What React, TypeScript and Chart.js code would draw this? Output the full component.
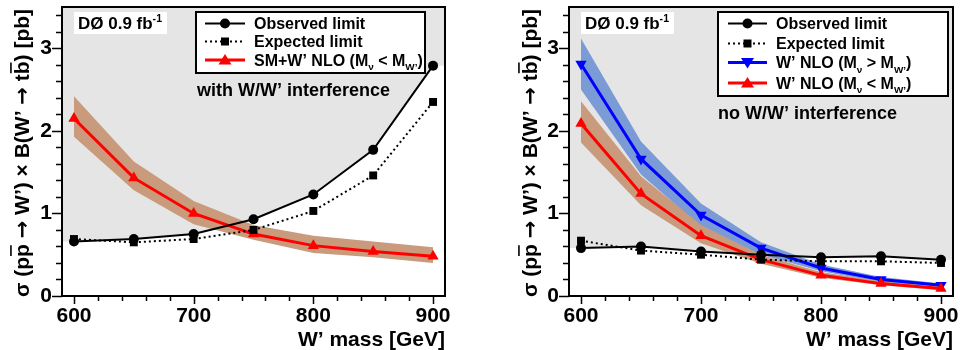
import React, { useEffect, useRef } from 'react';
import { Chart, registerables } from 'chart.js';

Chart.register(...registerables);

// ---------- data ----------
const masses = [600, 650, 700, 750, 800, 850, 900];
const xTickLabels = [600, 700, 800, 900];
const yTickLabels = [0, 1, 2, 3];
const xRange = [590, 910];
const yRange = [0, 3.5];

// left panel: with W/W' interference
const obsL = [0.66, 0.69, 0.75, 0.93, 1.23, 1.77, 2.79];
const expL = [0.69, 0.65, 0.69, 0.8, 1.03, 1.46, 2.35];
const smL = [2.15, 1.43, 1.0, 0.75, 0.61, 0.54, 0.48];
const smUpL = [2.42, 1.63, 1.15, 0.86, 0.73, 0.66, 0.59];
const smLoL = [1.93, 1.28, 0.87, 0.68, 0.52, 0.47, 0.4];

// right panel: no W/W' interference
const obsR = [0.58, 0.6, 0.54, 0.5, 0.47, 0.48, 0.44];
const expR = [0.67, 0.55, 0.5, 0.44, 0.42, 0.42, 0.4];
const gtR = [2.81, 1.66, 0.98, 0.58, 0.34, 0.2, 0.13];
const gtUpR = [3.12, 1.87, 1.12, 0.65, 0.38, 0.23, 0.15];
const gtLoR = [2.5, 1.47, 0.84, 0.5, 0.3, 0.17, 0.11];
const ltR = [2.09, 1.24, 0.73, 0.44, 0.25, 0.15, 0.09];
const ltUpR = [2.36, 1.45, 0.86, 0.5, 0.29, 0.18, 0.11];
const ltLoR = [1.86, 1.1, 0.64, 0.39, 0.22, 0.13, 0.07];

// ---------- styling ----------
const FONT = '"Liberation Sans", Arial, Helvetica, sans-serif';
const ARROWFONT = '"DejaVu Sans", sans-serif';
const bf = (s: number, fam?: string) => `bold ${s}px ${fam || FONT}`;
const GRAY = '#e5e5e5';
const BROWN = '#c99a7c';
const BLUEBAND = '#7b9bd6';
const RED = '#ff0000';
const BLUE = '#0000ff';

type Seg = { t: string; sub?: boolean; sup?: boolean; bar?: boolean; fam?: string };

function drawRich(ctx: CanvasRenderingContext2D, segs: Seg[], x: number, y: number, size: number, align: string) {
  const small = size * 0.62;
  const widths = segs.map((s) => {
    ctx.font = bf(s.sub || s.sup ? small : size, s.fam);
    return ctx.measureText(s.t).width;
  });
  const total = widths.reduce((a, b) => a + b, 0);
  let cx = align === 'center' ? x - total / 2 : align === 'right' ? x - total : x;
  ctx.textAlign = 'left';
  ctx.textBaseline = 'alphabetic';
  ctx.fillStyle = '#000';
  segs.forEach((s, i) => {
    ctx.font = bf(s.sub || s.sup ? small : size, s.fam);
    const dy = s.sub ? size * 0.3 : s.sup ? -size * 0.42 : 0;
    ctx.fillText(s.t, cx, y + dy);
    if (s.bar) {
      ctx.save();
      ctx.strokeStyle = '#000';
      ctx.lineWidth = 1.6;
      ctx.beginPath();
      ctx.moveTo(cx + 1, y - size * 0.86);
      ctx.lineTo(cx + widths[i] - 1, y - size * 0.86);
      ctx.stroke();
      ctx.restore();
    }
    cx += widths[i];
  });
}

function drawMarker(ctx: CanvasRenderingContext2D, style: string, x: number, y: number, color: string) {
  ctx.fillStyle = color;
  ctx.beginPath();
  if (style === 'circle') {
    ctx.arc(x, y, 5, 0, Math.PI * 2);
  } else if (style === 'rect') {
    ctx.rect(x - 4, y - 4, 8, 8);
  } else if (style === 'up') {
    ctx.moveTo(x, y - 6);
    ctx.lineTo(x + 6.5, y + 4.5);
    ctx.lineTo(x - 6.5, y + 4.5);
    ctx.closePath();
  } else {
    ctx.moveTo(x, y + 6);
    ctx.lineTo(x + 6.5, y - 4.5);
    ctx.lineTo(x - 6.5, y - 4.5);
    ctx.closePath();
  }
  ctx.fill();
}

type LegendEntry = { segs: Seg[]; color: string; width: number; dash: number[]; marker: string };

type PanelCfg = {
  obs: number[];
  exp: number[];
  curves: { val: number[]; up: number[]; lo: number[]; line: string; band: string; marker: string; order: number; bandOrder: number }[];
  yAxisWidth: number;
  padRight: number;
  yTitleX: number;
  legendBox: number[]; // x0,y0,x1,y1
  legendRows: number[];
  legendLine: number[]; // x0,x1
  legendText: number;
  legend: LegendEntry[];
  note: string;
  notePos: number[];
  dzeroBox: number[];
};

const obsEntry: LegendEntry = { segs: [{ t: 'Observed limit' }], color: '#000', width: 2, dash: [], marker: 'circle' };
const expEntry: LegendEntry = { segs: [{ t: 'Expected limit' }], color: '#000', width: 2, dash: [2, 3], marker: 'rect' };

const leftCfg: PanelCfg = {
  obs: obsL,
  exp: expL,
  curves: [{ val: smL, up: smUpL, lo: smLoL, line: RED, band: BROWN, marker: 'up', order: 3, bandOrder: 6 }],
  yAxisWidth: 62,
  padRight: 35,
  yTitleX: 22,
  legendBox: [196, 12, 425, 73],
  legendRows: [23.5, 41.5, 60],
  legendLine: [205, 245],
  legendText: 254,
  legend: [
    obsEntry,
    expEntry,
    {
      segs: [{ t: 'SM+W’ NLO (M' }, { t: 'ν', sub: true }, { t: ' < M' }, { t: 'W’', sub: true }, { t: ')' }],
      color: RED, width: 3, dash: [], marker: 'up',
    },
  ],
  note: 'with W/W’ interference',
  notePos: [197, 96],
  dzeroBox: [74, 12, 167, 34],
};

const rightCfg: PanelCfg = {
  obs: obsR,
  exp: expR,
  curves: [
    { val: gtR, up: gtUpR, lo: gtLoR, line: BLUE, band: BLUEBAND, marker: 'down', order: 4, bandOrder: 7 },
    { val: ltR, up: ltUpR, lo: ltLoR, line: RED, band: BROWN, marker: 'up', order: 3, bandOrder: 6 },
  ],
  yAxisWidth: 89,
  padRight: 7,
  yTitleX: 50,
  legendBox: [238, 12, 468, 96],
  legendRows: [23.5, 43.5, 62.5, 83],
  legendLine: [248, 287],
  legendText: 296,
  legend: [
    obsEntry,
    expEntry,
    {
      segs: [{ t: 'W’ NLO (M' }, { t: 'ν', sub: true }, { t: ' > M' }, { t: 'W’', sub: true }, { t: ')' }],
      color: BLUE, width: 3, dash: [], marker: 'down',
    },
    {
      segs: [{ t: 'W’ NLO (M' }, { t: 'ν', sub: true }, { t: ' < M' }, { t: 'W’', sub: true }, { t: ')' }],
      color: RED, width: 3, dash: [], marker: 'up',
    },
  ],
  note: 'no W/W’ interference',
  notePos: [238, 119],
  dzeroBox: [101, 12, 194, 34],
};

const yTitle: Seg[] = [
  { t: 'σ (p' },
  { t: 'p', bar: true },
  { t: ' ' },
  { t: '→', fam: ARROWFONT },
  { t: ' W’) × B(W’ ' },
  { t: '→', fam: ARROWFONT },
  { t: ' t' },
  { t: 'b', bar: true },
  { t: ') [pb]' },
];

const pts = (arr: number[]) => masses.map((m, i) => ({ x: m, y: arr[i] }));

function Panel({ cfg }: { cfg: PanelCfg }) {
  const ref = useRef<HTMLCanvasElement | null>(null);
  useEffect(() => {
    if (!ref.current) return;
    const datasets: any[] = [];
    // excluded (gray) region above the observed limit
    datasets.push({
      data: [{ x: xRange[0], y: cfg.obs[0] }, ...pts(cfg.obs), { x: xRange[1], y: cfg.obs[cfg.obs.length - 1] }],
      borderWidth: 0,
      pointRadius: 0,
      backgroundColor: GRAY,
      fill: 'end',
      order: 20,
    });
    cfg.curves.forEach((c) => {
      datasets.push({ data: pts(c.up), borderWidth: 0, pointRadius: 0, fill: false, order: c.bandOrder });
      datasets.push({ data: pts(c.lo), borderWidth: 0, pointRadius: 0, fill: '-1', backgroundColor: c.band, order: c.bandOrder });
    });
    cfg.curves.forEach((c) => {
      datasets.push({
        data: pts(c.val),
        borderColor: c.line,
        backgroundColor: c.line,
        borderWidth: 3,
        pointStyle: 'triangle',
        rotation: c.marker === 'down' ? 180 : 0,
        pointRadius: 6.5,
        pointBorderWidth: 0,
        fill: false,
        order: c.order,
      });
    });
    datasets.push({
      data: pts(cfg.exp),
      borderColor: '#000',
      backgroundColor: '#000',
      borderWidth: 2,
      borderDash: [2, 3],
      pointStyle: 'rect',
      pointRadius: 5.6,
      pointBorderWidth: 0,
      fill: false,
      order: 2,
    });
    datasets.push({
      data: pts(cfg.obs),
      borderColor: '#000',
      backgroundColor: '#000',
      borderWidth: 2,
      pointStyle: 'circle',
      pointRadius: 5,
      pointBorderWidth: 0,
      fill: false,
      order: 1,
    });

    const deco = {
      id: 'deco',
      afterDraw(chart: any) {
        const ctx: CanvasRenderingContext2D = chart.ctx;
        const a = chart.chartArea;
        const xs = chart.scales.x;
        const ys = chart.scales.y;
        ctx.save();
        // ticks
        ctx.strokeStyle = '#000';
        ctx.lineWidth = 1.5;
        ctx.beginPath();
        for (let v = yRange[0]; v <= yRange[1] + 1e-9; v += 0.2) {
          const p = Math.round(ys.getPixelForValue(v)) + 0.5;
          const major = Math.abs(v - Math.round(v)) < 1e-6;
          ctx.moveTo(a.left, p);
          ctx.lineTo(a.left - (major ? 10 : 6), p);
        }
        for (let v = 600; v <= xRange[1]; v += 20) {
          const p = Math.round(xs.getPixelForValue(v)) + 0.5;
          const major = v % 100 === 0;
          ctx.moveTo(p, a.bottom);
          ctx.lineTo(p, a.bottom + (major ? 8 : 5));
        }
        ctx.stroke();
        // frame
        ctx.lineWidth = 2;
        ctx.strokeRect(a.left, a.top, a.right - a.left, a.bottom - a.top);

        // DØ label
        const d = cfg.dzeroBox;
        ctx.fillStyle = '#fff';
        ctx.fillRect(d[0], d[1], d[2] - d[0], d[3] - d[1]);
        drawRich(ctx, [{ t: 'DØ 0.9 fb' }, { t: '-1', sup: true }], d[0] + 4, d[3] - 5, 17, 'left');

        // legend
        const b = cfg.legendBox;
        ctx.fillStyle = '#fff';
        ctx.fillRect(b[0], b[1], b[2] - b[0], b[3] - b[1]);
        ctx.strokeStyle = '#000';
        ctx.lineWidth = 2;
        ctx.strokeRect(b[0], b[1], b[2] - b[0], b[3] - b[1]);
        cfg.legend.forEach((e, i) => {
          const y = cfg.legendRows[i];
          const [l0, l1] = cfg.legendLine;
          ctx.save();
          ctx.strokeStyle = e.color;
          ctx.lineWidth = e.width;
          ctx.setLineDash(e.dash);
          ctx.beginPath();
          ctx.moveTo(l0, y);
          ctx.lineTo(l1, y);
          ctx.stroke();
          ctx.restore();
          drawMarker(ctx, e.marker, (l0 + l1) / 2, y, e.color);
          drawRich(ctx, e.segs, cfg.legendText, y + 5.5, 16, 'left');
        });

        // note
        drawRich(ctx, [{ t: cfg.note }], cfg.notePos[0], cfg.notePos[1], 18, 'left');

        // x title
        drawRich(ctx, [{ t: 'W’ mass [GeV]' }], a.right, 346, 21, 'right');

        // y title
        ctx.save();
        ctx.translate(cfg.yTitleX, 153);
        ctx.rotate(-Math.PI / 2);
        drawRich(ctx, yTitle, 0, 7, 21, 'center');
        ctx.restore();
        ctx.restore();
      },
    };

    const tickFont = { family: FONT, size: 21, weight: 'bold' as const };
    const chart = new Chart(ref.current, {
      type: 'line',
      data: { datasets },
      options: {
        animation: false,
        responsive: false,
        maintainAspectRatio: false,
        devicePixelRatio: 1,
        events: [],
        layout: { padding: { top: 7, right: cfg.padRight, left: 0, bottom: 0 } },
        elements: { line: { tension: 0 } },
        plugins: { legend: { display: false }, tooltip: { enabled: false } },
        scales: {
          x: {
            type: 'linear',
            min: xRange[0],
            max: xRange[1],
            grid: { display: false, drawTicks: false },
            border: { display: false },
            afterBuildTicks: (s: any) => {
              s.ticks = xTickLabels.map((v) => ({ value: v }));
            },
            afterFit: (s: any) => {
              s.height = 54;
              s.paddingLeft = 0;
              s.paddingRight = 0;
            },
            ticks: { font: tickFont, color: '#000', padding: 8, maxRotation: 0, autoSkip: false },
          },
          y: {
            type: 'linear',
            min: yRange[0],
            max: yRange[1],
            grid: { display: false, drawTicks: false },
            border: { display: false },
            afterBuildTicks: (s: any) => {
              s.ticks = yTickLabels.map((v) => ({ value: v }));
            },
            afterFit: (s: any) => {
              s.width = cfg.yAxisWidth;
              s.paddingTop = 0;
              s.paddingBottom = 0;
            },
            ticks: { font: tickFont, color: '#000', padding: 10, autoSkip: false },
          },
        },
      },
      plugins: [deco],
    } as any);
    return () => chart.destroy();
  }, [cfg]);
  return <canvas ref={ref} width={480} height={350} style={{ display: 'block', width: 480, height: 350 }} />;
}

export default function App() {
  return (
    <div style={{ position: 'fixed', left: 0, top: 0, width: 960, height: 350, display: 'flex', background: '#fff' }}>
      <Panel cfg={leftCfg} />
      <Panel cfg={rightCfg} />
    </div>
  );
}
